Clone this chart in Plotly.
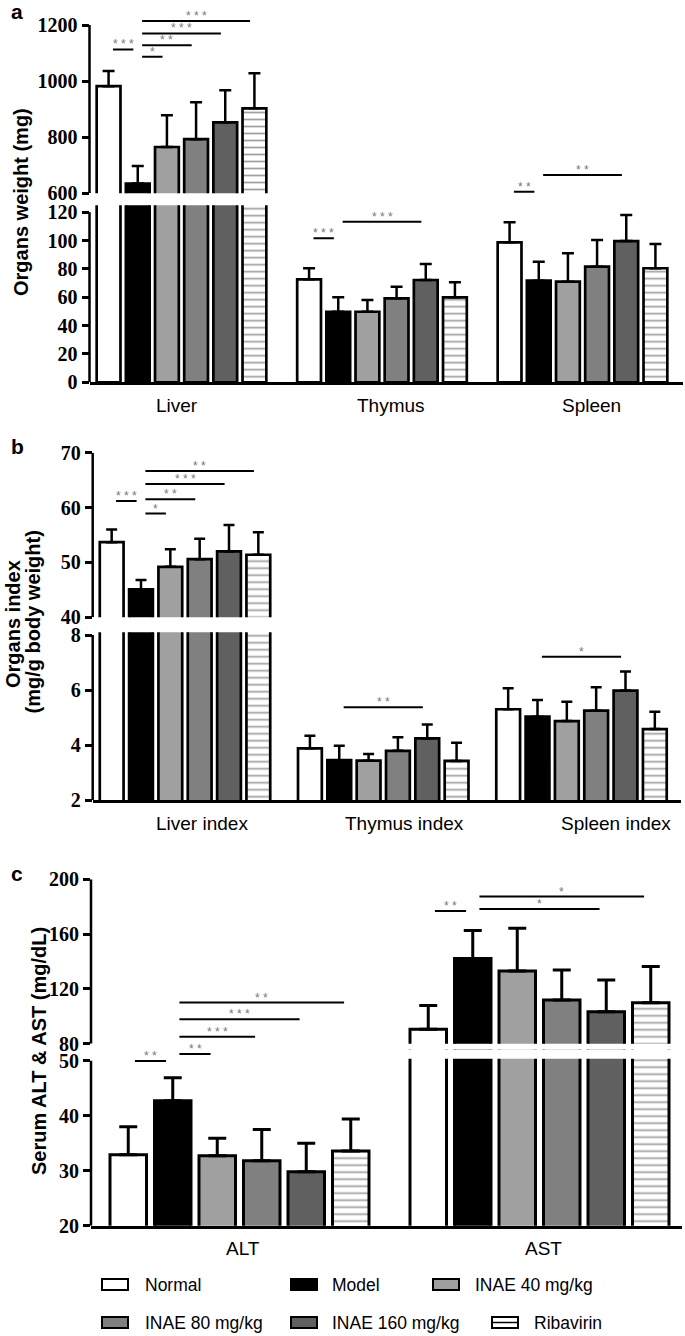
import plotly.graph_objects as go

W, H = 685, 1336

groups = ["Normal", "Model", "INAE 40 mg/kg", "INAE 80 mg/kg", "INAE 160 mg/kg", "Ribavirin"]

# a - organ weight (mg), values in group order
organs = ["Liver", "Thymus", "Spleen"]
liver_mg = [982, 635, 765, 793, 853, 903]
liver_mg_sd = [54, 62, 113, 132, 114, 125]
thymus_mg = [72.7, 49.8, 49.8, 59.3, 72.2, 60.0]
thymus_mg_sd = [7.8, 10.2, 8.3, 8.2, 11.3, 10.6]
spleen_mg = [98.8, 71.7, 71.0, 81.6, 99.7, 80.5]
spleen_mg_sd = [14.1, 13.4, 20.1, 18.8, 18.4, 17.1]

# b - organ index (mg/g body weight)
indices = ["Liver index", "Thymus index", "Spleen index"]
liver_idx = [53.7, 45.1, 49.2, 50.6, 52.0, 51.4]
liver_idx_sd = [2.3, 1.7, 3.2, 3.7, 4.8, 4.1]
thymus_idx = [3.88, 3.45, 3.43, 3.79, 4.24, 3.42]
thymus_idx_sd = [0.46, 0.52, 0.24, 0.49, 0.51, 0.66]
spleen_idx = [5.30, 5.03, 4.87, 5.25, 5.98, 4.58]
spleen_idx_sd = [0.76, 0.61, 0.70, 0.85, 0.69, 0.63]

# c - serum enzymes (mg/dL)
enzymes = ["ALT", "AST"]
alt = [32.9, 42.7, 32.7, 31.8, 29.8, 33.6]
alt_sd = [5.1, 4.2, 3.2, 5.7, 5.2, 5.8]
ast = [90.5, 142.1, 133.1, 111.9, 103.4, 109.9]
ast_sd = [17.3, 20.5, 31.2, 21.9, 23.1, 26.4]

# significance: (category, group i, group j, height, stars)
sig_a = [("Liver", 0, 1, 1113, "***"), ("Liver", 1, 2, 1087, "*"), ("Liver", 1, 3, 1128, "**"),
         ("Liver", 1, 4, 1170, "***"), ("Liver", 1, 5, 1214, "***"),
         ("Thymus", 0, 1, 101.6, "***"), ("Thymus", 1, 4, 113.4, "***"),
         ("Spleen", 0, 1, 605.7, "**"), ("Spleen", 1, 4, 665, "**")]
sig_b = [("Liver index", 0, 1, 61.2, "***"), ("Liver index", 1, 2, 58.9, "*"),
         ("Liver index", 1, 3, 61.5, "**"), ("Liver index", 1, 4, 64.3, "***"),
         ("Liver index", 1, 5, 66.65, "**"),
         ("Thymus index", 1, 4, 5.37, "**"), ("Spleen index", 1, 4, 7.21, "*")]
sig_c = [("ALT", 0, 1, 49.95, "**"), ("ALT", 1, 2, 51.2, "**"), ("ALT", 1, 3, 85.1, "***"),
         ("ALT", 1, 4, 97.8, "***"), ("ALT", 1, 5, 110.0, "**"),
         ("AST", 0, 1, 176.9, "**"), ("AST", 1, 4, 178.4, "*"), ("AST", 1, 5, 187.4, "*")]

colors = ["white", "black", "#a0a0a0", "#808080", "#606060", "white"]
SERIF = "Liberation Serif"
SANS = "Liberation Sans"

# layout of the three panels (pixel geometry of the reference)
panels = [
    dict(x="x", lo="y", hi="y2", cats=organs,
         means=[liver_mg, thymus_mg, spleen_mg], sds=[liver_mg_sd, thymus_mg_sd, spleen_mg_sd], sig=sig_a,
         left=89.5, right=683, c0=181.5, pitch=200.5, group=175, bar=26.5, lw=2.7, cap=6, eth=2.5,
         lo_rng=(0, 125), lo_top=120, lo_dt=20, lo_px=(382.3, 205.2),
         hi_rng=(600, 1225), hi_top=1200, hi_dt=200, hi_px=(193.3, 18.0),
         label_y=405, label_dx=[-5, 9, 9], mask=None),
    dict(x="x2", lo="y3", hi="y4", cats=indices,
         means=[liver_idx, thymus_idx, spleen_idx], sds=[liver_idx_sd, thymus_idx_sd, spleen_idx_sd], sig=sig_b,
         left=92.7, right=681, c0=185, pitch=198.25, group=176, bar=26.5, lw=2.7, cap=5.5, eth=2.5,
         lo_rng=(2, 8.1), lo_top=8, lo_dt=2, lo_px=(800, 632.25),
         hi_rng=(40, 70), hi_top=70, hi_dt=10, hi_px=(617.3, 452.7),
         label_y=823, label_dx=[17, 21, 34], mask=None),
    dict(x="x3", lo="y5", hi="y6", cats=enzymes,
         means=[alt, ast], sds=[alt_sd, ast_sd], sig=sig_c,
         left=91, right=682, c0=239.5, pitch=300, group=267, bar=39.5, lw=3, cap=9, eth=3,
         lo_rng=(20, 52), lo_top=50, lo_dt=10, lo_px=(1225.7, 1049.7),
         hi_rng=(80, 200), hi_top=200, hi_dt=40, hi_px=(1043.7, 879.3),
         label_y=1248, label_dx=[3, 4], mask=50.35),
]


def axname(a):
    return ("xaxis" if a[0] == "x" else "yaxis") + a[1:]


fig = go.Figure()
shapes = []
annotations = []
layout = {}

for p in panels:
    pu = p["pitch"]
    slot = p["group"] / 6 / pu
    bw = (p["bar"] - p["lw"]) / pu
    centers = [-p["group"] / 2 / pu + (i + 0.5) * slot for i in range(6)]
    ncat = len(p["cats"])

    for g, name in enumerate(groups):
        vals = [p["means"][c][g] for c in range(ncat)]
        sds = [p["sds"][c][g] for c in range(ncat)]
        marker = dict(color=colors[g], line=dict(color="black", width=p["lw"]))
        if name == "Ribavirin":
            marker["pattern"] = dict(shape="-", size=7, solidity=0.25, fgcolor="#444444",
                                     bgcolor="white", fillmode="overlay")
        for ya in (p["lo"], p["hi"]):
            fig.add_trace(go.Bar(
                x=p["cats"], y=vals, xaxis=p["x"], yaxis=ya, name=name, showlegend=False,
                width=bw, offset=centers[g] - bw / 2, marker=marker,
                error_y=dict(type="data", array=sds, arrayminus=[0] * ncat, symmetric=False,
                             color="black", thickness=p["eth"], width=p["cap"]),
            ))

    layout[axname(p["x"])] = dict(
        domain=[p["left"] / W, p["right"] / W], anchor=p["lo"], type="category",
        range=[(p["left"] - p["c0"]) / pu, (p["right"] - p["c0"]) / pu], automargin=False,
        showline=True, linewidth=2.5, linecolor="black", ticks="", showticklabels=False,
        showgrid=False, zeroline=False, fixedrange=True)
    for key in ("lo", "hi"):
        bot, top = p[key + "_px"]
        layout[axname(p[key])] = dict(
            domain=[1 - bot / H, 1 - top / H], anchor=p["x"], range=list(p[key + "_rng"]),
            automargin=False,
            tick0=0, dtick=p[key + "_dt"], ticks="outside", ticklen=7, tickwidth=2.5, tickcolor="black",
            tickfont=dict(family=SERIF, size=20, color="black", weight="bold"),
            showline=False, showgrid=False, zeroline=False, fixedrange=True)
        shapes.append(dict(type="line", xref=p["x"] + " domain", yref=p[key], x0=0, x1=0,
                           y0=p[key + "_rng"][0], y1=p[key + "_top"],
                           line=dict(color="black", width=2.5)))

    if p["mask"] is not None:
        shapes.append(dict(type="rect", xref=p["x"] + " domain", yref=p["lo"], x0=0.003, x1=1,
                           y0=p["mask"], y1=p["lo_rng"][1], fillcolor="white", line=dict(width=0)))

    for cat, i, j, h, stars in p["sig"]:
        ci = p["cats"].index(cat)
        x0 = ci + centers[i] + 0.15 * slot
        x1 = ci + centers[j] - 0.15 * slot
        ya = p["lo"] if h <= p["lo_rng"][1] else p["hi"]
        shapes.append(dict(type="line", xref=p["x"], yref=ya, x0=x0, x1=x1, y0=h, y1=h,
                           line=dict(color="black", width=2)))
        annotations.append(dict(xref=p["x"], yref=ya, x=(x0 + x1) / 2, y=h, xanchor="center",
                                yanchor="bottom", yshift=-4, text=" ".join(stars), showarrow=False,
                                font=dict(family=SANS, size=12, color="#777777")))

    for ci, cat in enumerate(p["cats"]):
        annotations.append(dict(xref=p["x"], yref="paper", x=ci + p["label_dx"][ci] / pu,
                                y=1 - p["label_y"] / H, xanchor="center", yanchor="middle",
                                text=cat, showarrow=False,
                                font=dict(family=SANS, size=19, color="black")))

# panel letters and y titles
for letter, ly in (("a", 11), ("b", 446), ("c", 873)):
    annotations.append(dict(xref="paper", yref="paper", x=9 / W, y=1 - ly / H, xanchor="left",
                            yanchor="middle", text=letter, showarrow=False,
                            font=dict(family=SANS, size=21, color="black", weight="bold")))
for txt, tx, ty in (("Organs weight (mg)", 21, 202), ("Organs index", 13, 624),
                    ("(mg/g body weight)", 32.5, 622), ("Serum ALT & AST (mg/dL)", 39, 1051)):
    annotations.append(dict(xref="paper", yref="paper", x=tx / W, y=1 - ty / H, textangle=-90,
                            xanchor="center", yanchor="middle", text=txt, showarrow=False,
                            font=dict(family=SANS, size=20, color="black", weight="bold")))

# legend drawn by hand: (group, row y, swatch left, text left)
legend_pos = [(0, 1284.5, 102, 143), (1, 1284.5, 291, 330), (2, 1284.5, 433, 473),
              (3, 1322.5, 102, 143), (4, 1322.5, 291, 330), (5, 1322.5, 492, 532)]
for g, ry, sx, tx in legend_pos:
    shapes.append(dict(type="rect", xref="paper", yref="paper", x0=sx / W, x1=(sx + 26) / W,
                       y0=1 - (ry + 5.5) / H, y1=1 - (ry - 5.5) / H, fillcolor=colors[g],
                       line=dict(color="black", width=2)))
    if groups[g] == "Ribavirin":
        shapes.append(dict(type="line", xref="paper", yref="paper", x0=sx / W, x1=(sx + 26) / W,
                           y0=1 - ry / H, y1=1 - ry / H, line=dict(color="black", width=1.5)))
    annotations.append(dict(xref="paper", yref="paper", x=tx / W, y=1 - ry / H, xanchor="left",
                            yanchor="middle", text=groups[g], showarrow=False,
                            font=dict(family=SANS, size=17.5, color="black")))

fig.update_layout(
    template="none",
    width=W, height=H, margin=dict(l=0, r=0, t=0, b=0, pad=0, autoexpand=False),
    paper_bgcolor="white", plot_bgcolor="white",
    barmode="overlay", showlegend=False,
    shapes=shapes, annotations=annotations, **layout)

page_fix = ("document.documentElement.style.margin='0';document.body.style.margin='0';"
            "document.body.style.overflow='hidden';"
            "var d=document.getElementById('{plot_id}');d.style.position='absolute';"
            "d.style.left='0px';d.style.top='0px';")
fig.write_html("out.html", config={"displayModeBar": False}, post_script=page_fix)
